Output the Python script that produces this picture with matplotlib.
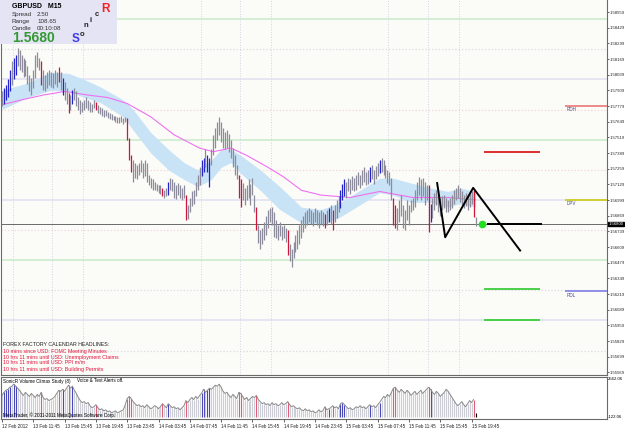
# GBPUSD M15 chart with SonicR band, volume climax study and pivot lines

import numpy as np
import matplotlib.pyplot as plt
from matplotlib.patches import Rectangle

plt.rcParams['font.family'] = ['Liberation Sans', 'DejaVu Sans']

# bar highs / lows (M15)
high = [1.5790, 1.5793, 1.5795, 1.5800, 1.5808, 1.5815, 1.5818, 1.5820, 1.5826, 1.5824,
        1.5820, 1.5818, 1.5816, 1.5811, 1.5804, 1.5801, 1.5808, 1.5820, 1.5823, 1.5818,
        1.5815, 1.5808, 1.5804, 1.5806, 1.5808, 1.5806, 1.5805, 1.5808, 1.5806, 1.5810,
        1.5806, 1.5801, 1.5798, 1.5793, 1.5789, 1.5787, 1.5791, 1.5793, 1.5790, 1.5785,
        1.5783, 1.5781, 1.5783, 1.5785, 1.5783, 1.5781, 1.5780, 1.5783, 1.5781, 1.5779,
        1.5777, 1.5776, 1.5775, 1.5775, 1.5773, 1.5772, 1.5771, 1.5770, 1.5770, 1.5769,
        1.5769, 1.5770, 1.5768, 1.5769, 1.5768, 1.5751, 1.5737, 1.5733, 1.5731, 1.5729,
        1.5731, 1.5733, 1.5731, 1.5733, 1.5731, 1.5721, 1.5718, 1.5717, 1.5715, 1.5713,
        1.5712, 1.5712, 1.5710, 1.5708, 1.5710, 1.5715, 1.5718, 1.5717, 1.5715, 1.5712,
        1.5714, 1.5712, 1.5710, 1.5712, 1.5704, 1.5696, 1.5702, 1.5707, 1.5708, 1.5715,
        1.5721, 1.5727, 1.5733, 1.5735, 1.5742, 1.5737, 1.5735, 1.5742, 1.5754, 1.5760,
        1.5765, 1.5769, 1.5765, 1.5760, 1.5756, 1.5758, 1.5755, 1.5750, 1.5743, 1.5737,
        1.5729, 1.5721, 1.5717, 1.5714, 1.5710, 1.5712, 1.5717, 1.5713, 1.5718, 1.5704,
        1.5694, 1.5679, 1.5675, 1.5677, 1.5682, 1.5687, 1.5692, 1.5693, 1.5694, 1.5690,
        1.5683, 1.5679, 1.5682, 1.5678, 1.5679, 1.5677, 1.5675, 1.5663, 1.5659, 1.5665,
        1.5671, 1.5675, 1.5679, 1.5683, 1.5687, 1.5690, 1.5692, 1.5693, 1.5692, 1.5690,
        1.5693, 1.5692, 1.5690, 1.5692, 1.5690, 1.5688, 1.5692, 1.5693, 1.5696, 1.5692,
        1.5696, 1.5700, 1.5703, 1.5708, 1.5713, 1.5717, 1.5715, 1.5718, 1.5717, 1.5720,
        1.5718, 1.5721, 1.5723, 1.5721, 1.5725, 1.5727, 1.5723, 1.5725, 1.5727, 1.5729,
        1.5725, 1.5728, 1.5731, 1.5733, 1.5735, 1.5733, 1.5729, 1.5725, 1.5723, 1.5718,
        1.5702, 1.5696, 1.5693, 1.5700, 1.5704, 1.5696, 1.5692, 1.5700, 1.5696, 1.5700,
        1.5702, 1.5708, 1.5715, 1.5719, 1.5717, 1.5718, 1.5715, 1.5712, 1.5712, 1.5697,
        1.5702, 1.5706, 1.5708, 1.5704, 1.5702, 1.5703, 1.5704, 1.5702, 1.5700, 1.5702,
        1.5704, 1.5708, 1.5710, 1.5712, 1.5710, 1.5707, 1.5704, 1.5706, 1.5703, 1.5705,
        1.5707, 1.5708, 1.5686]
low = [1.5778, 1.5780, 1.5783, 1.5785, 1.5790, 1.5795, 1.5800, 1.5804, 1.5811, 1.5808,
       1.5806, 1.5802, 1.5803, 1.5796, 1.5790, 1.5787, 1.5793, 1.5801, 1.5810, 1.5808,
       1.5795, 1.5791, 1.5790, 1.5793, 1.5795, 1.5794, 1.5793, 1.5796, 1.5794, 1.5798,
       1.5791, 1.5787, 1.5783, 1.5780, 1.5772, 1.5775, 1.5780, 1.5783, 1.5778, 1.5775,
       1.5771, 1.5773, 1.5775, 1.5776, 1.5775, 1.5773, 1.5773, 1.5776, 1.5775, 1.5772,
       1.5771, 1.5770, 1.5769, 1.5770, 1.5768, 1.5767, 1.5766, 1.5766, 1.5765, 1.5764,
       1.5764, 1.5765, 1.5763, 1.5765, 1.5750, 1.5733, 1.5723, 1.5715, 1.5718, 1.5717,
       1.5721, 1.5723, 1.5718, 1.5720, 1.5715, 1.5712, 1.5710, 1.5708, 1.5708, 1.5707,
       1.5706, 1.5705, 1.5703, 1.5702, 1.5703, 1.5704, 1.5708, 1.5707, 1.5702, 1.5701,
       1.5704, 1.5702, 1.5700, 1.5702, 1.5683, 1.5684, 1.5690, 1.5695, 1.5697, 1.5703,
       1.5708, 1.5712, 1.5720, 1.5723, 1.5727, 1.5723, 1.5711, 1.5729, 1.5737, 1.5743,
       1.5750, 1.5754, 1.5748, 1.5743, 1.5742, 1.5743, 1.5740, 1.5735, 1.5727, 1.5721,
       1.5717, 1.5702, 1.5694, 1.5700, 1.5696, 1.5700, 1.5702, 1.5696, 1.5704, 1.5690,
       1.5675, 1.5664, 1.5659, 1.5663, 1.5667, 1.5671, 1.5677, 1.5682, 1.5679, 1.5669,
       1.5668, 1.5667, 1.5670, 1.5667, 1.5668, 1.5665, 1.5654, 1.5649, 1.5644, 1.5652,
       1.5657, 1.5659, 1.5663, 1.5668, 1.5673, 1.5677, 1.5679, 1.5682, 1.5680, 1.5678,
       1.5682, 1.5679, 1.5677, 1.5680, 1.5678, 1.5677, 1.5679, 1.5682, 1.5680, 1.5675,
       1.5682, 1.5685, 1.5690, 1.5693, 1.5700, 1.5703, 1.5702, 1.5707, 1.5705, 1.5708,
       1.5707, 1.5708, 1.5712, 1.5710, 1.5712, 1.5715, 1.5712, 1.5713, 1.5715, 1.5717,
       1.5713, 1.5717, 1.5720, 1.5722, 1.5723, 1.5721, 1.5718, 1.5714, 1.5712, 1.5700,
       1.5679, 1.5677, 1.5675, 1.5682, 1.5687, 1.5677, 1.5675, 1.5683, 1.5679, 1.5690,
       1.5692, 1.5694, 1.5700, 1.5704, 1.5700, 1.5703, 1.5696, 1.5700, 1.5673, 1.5682,
       1.5685, 1.5692, 1.5696, 1.5690, 1.5687, 1.5692, 1.5693, 1.5690, 1.5690, 1.5692,
       1.5693, 1.5697, 1.5700, 1.5702, 1.5698, 1.5695, 1.5693, 1.5695, 1.5692, 1.5694,
       1.5697, 1.5686, 1.5678]
volume = [1383, 1580, 1711, 1776, 1907, 1973, 2104, 1973, 1842, 1711,
          1514, 1383, 1580, 1449, 1318, 1514, 1383, 1252, 1449, 1318,
          1580, 1252, 1121, 1187, 1056, 1121, 1187, 1318, 1514, 1711,
          1645, 1776, 1645, 1842, 2038, 1842, 1973, 1711, 1514, 1252,
          1056, 925, 990, 859, 925, 728, 597, 663, 794, 597,
          466, 532, 401, 466, 335, 401, 270, 335, 401, 270,
          335, 401, 466, 794, 1187, 1318, 1187, 990, 859, 728,
          794, 663, 728, 597, 794, 663, 532, 597, 728, 663,
          532, 663, 859, 728, 597, 859, 728, 597, 663, 532,
          597, 466, 597, 728, 1056, 925, 1121, 1252, 1121, 1318,
          1187, 1383, 1514, 1776, 1580, 1711, 1842, 1776, 1907, 2038,
          1973, 2104, 1907, 1645, 1514, 1580, 1383, 1252, 1449, 1318,
          1187, 1580, 1514, 1318, 1121, 1252, 1056, 1187, 1318, 1252,
          1383, 1121, 990, 859, 925, 794, 859, 728, 925, 794,
          859, 728, 794, 925, 794, 859, 990, 794, 663, 728,
          597, 532, 597, 466, 401, 532, 401, 466, 335, 401,
          270, 335, 466, 335, 401, 663, 466, 532, 597, 728,
          597, 663, 532, 859, 925, 794, 663, 532, 597, 466,
          532, 663, 597, 728, 597, 663, 532, 663, 794, 663,
          728, 597, 794, 925, 1121, 1318, 1252, 1449, 1318, 1580,
          1842, 1907, 1711, 1580, 1776, 1645, 1514, 1711, 1580, 1383,
          1514, 1645, 1449, 1580, 1711, 1514, 1645, 1776, 1907, 1776,
          1580, 1449, 1645, 1514, 1318, 1449, 1580, 1776, 1645, 1449,
          1252, 1056, 859, 728, 859, 990, 794, 663, 859, 1056,
          925, 1121, 270]
red_bars = [20, 29, 34, 48, 64, 65, 66, 82, 94, 121, 122, 130, 146, 165, 169, 200, 201, 218, 241]
blue_bars = [1, 2, 3, 4, 6, 7, 31, 36, 85, 102, 103, 105, 106, 167, 173, 174, 175, 188, 193, 219]

# SonicR dragon band (ema34 high/low) and ema89
band_bar = [0, 13, 25, 34, 42, 50, 62, 67, 76, 85, 93, 100, 107, 112, 117,
            122, 132, 142, 153, 163, 173, 183, 193, 200, 209, 219, 228, 234, 242]
band_up = [1.5791, 1.5797, 1.5806, 1.5805, 1.5800, 1.5794, 1.5783, 1.5775, 1.5756, 1.5742,
           1.5731, 1.5725, 1.5733, 1.5742, 1.5742, 1.5737, 1.5725, 1.5711, 1.5694, 1.5692,
           1.5698, 1.5708, 1.5718, 1.5718, 1.5714, 1.5710, 1.5707, 1.5710, 1.5707]
band_dn = [1.5775, 1.5785, 1.5791, 1.5790, 1.5785, 1.5781, 1.5769, 1.5758, 1.5739, 1.5725,
           1.5717, 1.5711, 1.5717, 1.5727, 1.5731, 1.5722, 1.5708, 1.5692, 1.5681, 1.5679,
           1.5686, 1.5696, 1.5706, 1.5704, 1.5698, 1.5698, 1.5694, 1.5697, 1.5694]
ema_bar = [0, 10, 21, 32, 44, 54, 64, 76, 88, 101, 108, 117, 125, 136, 144,
           153, 163, 178, 193, 210, 228, 242]
ema89 = [1.5779, 1.5783, 1.5787, 1.5790, 1.5787, 1.5785, 1.5780, 1.5769, 1.5754, 1.5743,
         1.5740, 1.5743, 1.5737, 1.5727, 1.5719, 1.5708, 1.5704, 1.5702, 1.5707, 1.5702,
         1.5702, 1.5700]

# zigzag projection and targets
zz_bar = [222.4, 226.5, 240.8, 264.8]
zz_price = [1.5714, 1.5669, 1.5710, 1.5658]
bid = 1.5680
target_up = 1.5740
target_dn = [1.5626, 1.5600]

# daily pivots
pivots = [('RDH', 1.5778, '#e86c6c'), ('DPV', 1.5700, '#c8c800'), ('RDL', 1.5624, '#7474e4')]
# round number levels drawn across the chart
levels = [(1.5850, '#cdeccd', '-'), (1.5825, '#dcdce0', ':'), (1.5800, '#e2e2f2', '-'),
          (1.5775, '#f2d2d8', ':'), (1.5750, '#cdeccd', '-'), (1.5725, '#f2d2d8', ':'),
          (1.5700, '#e2e2f2', '-'), (1.5675, '#f2d2d8', ':'), (1.5650, '#cdeccd', '-'),
          (1.5625, '#dcdce0', ':'), (1.5600, '#e2e2f2', '-'), (1.5575, '#dcdce0', ':')]
session_bars = [5.5, 25.5, 41.5, 101.5, 121.5, 137.5, 197.5, 217.5, 233.5]

time_ticks = list(range(0, 241, 16))
time_labels = ['12 Feb 2012', '13 Feb 11:45', '13 Feb 15:45', '13 Feb 19:45', '13 Feb 23:45',
               '14 Feb 03:45', '14 Feb 07:45', '14 Feb 11:45', '14 Feb 15:45', '14 Feb 19:45',
               '14 Feb 23:45', '15 Feb 03:45', '15 Feb 07:45', '15 Feb 11:45', '15 Feb 15:45',
               '15 Feb 19:45']
headlines = ['10 mins since USD: FOMC Meeting Minutes',
             '10 hrs 11 mins until USD: Unemployment Claims',
             '10 hrs 11 mins until USD: PPI m/m',
             '10 hrs 11 mins until USD: Building Permits']

W, H = 625.0, 429.0
def fx(px): return px / W
def fy(py): return 1 - py / H

small = 3.1   # right axis labels
tiny = 3.3    # time labels and window captions

n = len(high)
idx = np.arange(n)
bar_col = ['#8c8c9c'] * n
vol_col = ['#cdcdd6'] * n
for i in red_bars: bar_col[i], vol_col[i] = '#d0143c', '#e25c78'
for i in blue_bars: bar_col[i], vol_col[i] = '#2424cc', '#4848b8'
vol_col[-1] = 'black'

fig = plt.figure(figsize=(6.25, 4.29), dpi=100)
ax = fig.add_axes([fx(1), fy(375), 606 / W, 375 / H])
axv = fig.add_axes([fx(1), fy(419), 606 / W, 42 / H])
xlim = (-0.5, 309.2)

ax.set_facecolor('#fbfcf8')
for y, c, ls in levels:
    ax.axhline(y, color=c, lw=1.2 if ls == '-' else 0.9, ls=ls, zorder=0)
for b in session_bars:
    ax.axvline(b, color='#d4d4e2', lw=0.7, ls=':', zorder=0)

ax.fill_between(band_bar, band_dn, band_up, color='#c8e2f6', lw=0, zorder=1)
ax.plot(ema_bar, ema89, color='#f070f0', lw=0.8, zorder=2)
ax.vlines(idx, low, high, colors=bar_col, lw=0.9, zorder=3)

ax.axhline(bid, color='#6a6a6a', lw=0.7, zorder=2)
ax.plot(zz_bar, zz_price, color='black', lw=1.4, zorder=4)
ax.hlines(bid, 248, 276, color='black', lw=1.4, zorder=4)
ax.hlines(target_up, 246.5, 275, color='#dd1e1e', lw=1.3, zorder=4)
ax.hlines(target_dn, 246.5, 275, color='#3ccc3c', lw=1.3, zorder=4)
ax.plot([245.5], [bid], 'o', color='#22dd22', ms=4.5, zorder=5)

for name, y, c in pivots:
    ax.hlines(y, 287.8, 309.2, color=c, lw=1.1, zorder=4)
    ax.text(288.8, y - 0.00012, name, fontsize=tiny, color='#4a4a8c', va='top', ha='left')

ax.set_xlim(xlim)
ax.set_ylim(1.55547, 1.58659)
ax.yaxis.tick_right()
yt = 1.55569 + 0.0013 * np.arange(24)
ax.set_yticks(yt)
ax.set_yticklabels(['%.5f' % v for v in yt], fontsize=small)
ax.tick_params(axis='y', length=1.2, width=0.5, pad=0.5, colors='#222222')
ax.tick_params(axis='x', bottom=False, labelbottom=False)
for s in ax.spines.values():
    s.set_color('#6a6a6a'); s.set_linewidth(0.8)
ax.spines['top'].set_visible(False)
ax.text(1.002, bid, '1.56800', transform=ax.get_yaxis_transform(), fontsize=small,
        color='white', va='center', ha='left',
        bbox=dict(boxstyle='square,pad=0.1', fc='black', ec='black'))

# volume climax window
axv.set_facecolor('white')
axv.vlines(idx, 0, volume, colors=vol_col, lw=0.8)
axv.plot(idx[:-1], volume[:-1], color='#8a8a8a', lw=0.7)
axv.set_xlim(xlim)
axv.set_ylim(-122.06, 2562.06)
axv.set_yticks([])
axv.set_xticks(time_ticks)
axv.set_xticklabels(time_labels, fontsize=tiny, ha='left')
axv.tick_params(axis='x', length=2, width=0.5, pad=1.5, colors='#222222')
for s in axv.spines.values():
    s.set_color('#6a6a6a'); s.set_linewidth(0.8)
axv.text(1.002, 2562.06, '2562.06', transform=axv.get_yaxis_transform(), fontsize=small, va='top')
axv.text(1.002, -122.06, '-122.06', transform=axv.get_yaxis_transform(), fontsize=small, va='bottom')
fig.text(fx(3), fy(381), 'SonicR Volume Climax Study (8)', fontsize=tiny, va='center')
fig.text(fx(77), fy(381), 'Voice & Text Alerts off.', fontsize=tiny, va='center')
fig.text(fx(3), fy(415), 'MetaTrader, \u00a9 2001-2011 MetaQuotes Software Corp.', fontsize=tiny,
         va='center')

# calendar headlines
fig.text(fx(3), fy(345), 'FOREX FACTORY CALENDAR HEADLINES:', fontsize=3.8, color='#202020', va='center')
for k, t in enumerate(headlines):
    fig.text(fx(3), fy(351 + 6 * k), t, fontsize=3.8, color='#e0103c', va='center')

# info box
fig.add_artist(Rectangle((0, fy(44)), fx(117), 44 / H, transform=fig.transFigure,
                         fc='#e4e4f4', ec='none', zorder=4))
fig.text(fx(12), fy(6), 'GBPUSD   M15', fontsize=5, weight='bold', va='center', zorder=5)
for k, (a, b) in enumerate([('Spread', '2.50'), ('Range', '108.65'), ('Candle', '00:10:08')]):
    fig.text(fx(12), fy(14.5 + 7 * k), a, fontsize=4.5, color='#333333', va='center', zorder=5)
    fig.text(fx(37), fy(14.5 + 7 * k), b, fontsize=4.5, color='#333333', va='center', zorder=5)
fig.text(fx(12), fy(38.5), '1.5680', fontsize=10, weight='bold', color='#339933', va='center', zorder=5)
fig.text(fx(72), fy(39), 'S', fontsize=8.5, weight='bold', color='#3c3ce6', va='center', zorder=5)
for ch, px, py in [('o', 79.5, 34.5), ('n', 84, 25.5), ('i', 90, 20), ('c', 95, 15)]:
    fig.text(fx(px), fy(py), ch, fontsize=5.5, weight='bold', color='#222222', va='center', zorder=5)
fig.text(fx(101), fy(9), 'R', fontsize=8.5, weight='bold', color='#ee2222', va='center', zorder=5)

fig.savefig('out.png', dpi=100)
